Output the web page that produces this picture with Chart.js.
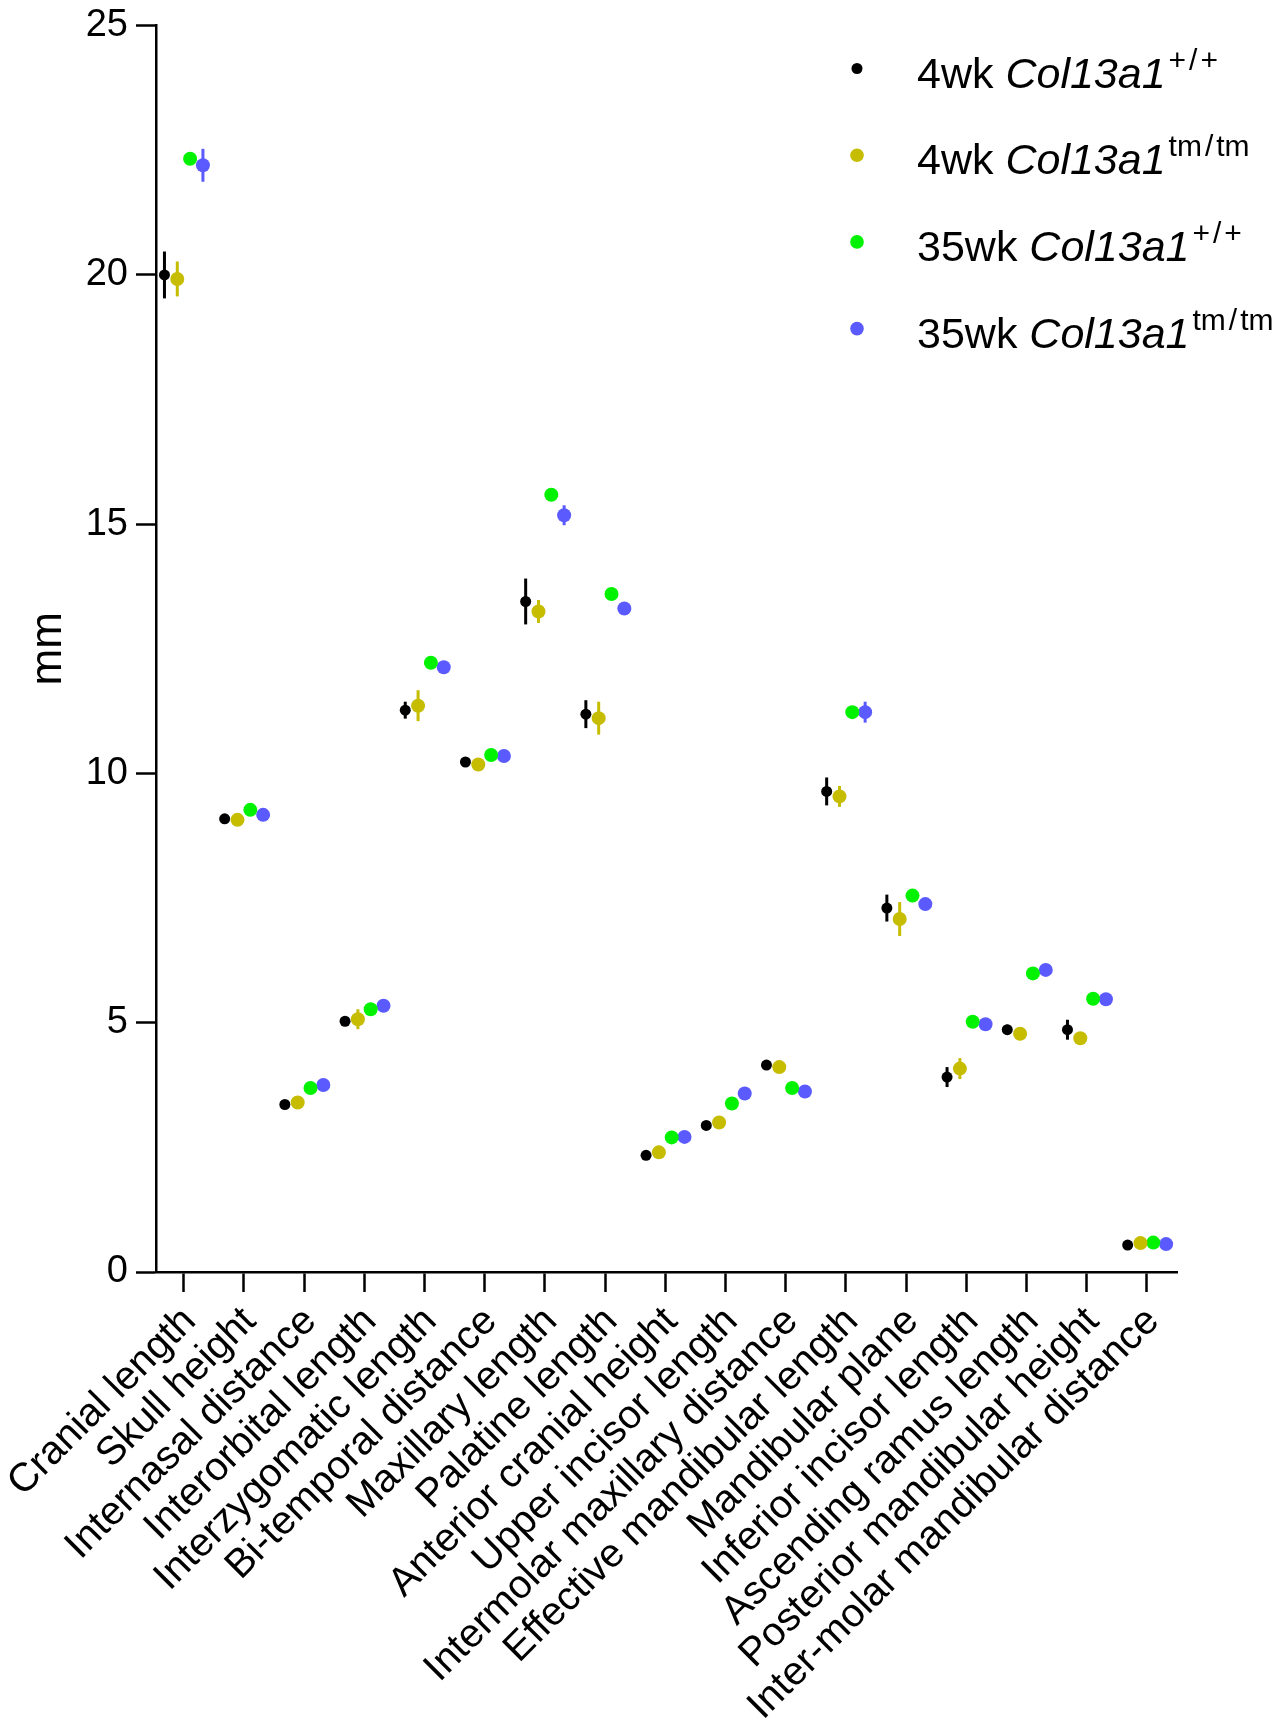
<!DOCTYPE html>
<html>
<head>
<meta charset="utf-8">
<script src="https://cdn.jsdelivr.net/npm/chart.js@4.4.1/dist/chart.umd.min.js"></script>
<style>
  html, body { margin: 0; padding: 0; background: #ffffff; }
  #wrap { position: relative; width: 1286px; height: 1721px; }
</style>
</head>
<body>
<div id="wrap"><canvas id="c"></canvas></div>
<script>
const categories = ['Cranial length','Skull height','Internasal distance','Interorbital length','Interzygomatic length','Bi-temporal distance','Maxillary length','Palatine length','Anterior cranial height','Upper incisor length','Intermolar maxillary distance','Effective mandibular length','Mandibular plane','Inferior incisor length','Ascending ramus length','Posterior mandibular height','Inter-molar mandibular distance'];

const ages = ['4wk', '4wk', '35wk', '35wk'];
const gene = 'Col13a1';
const genotypes = ['+/+', 'tm/tm', '+/+', 'tm/tm'];

const wk4WT     = [20.00, 9.09, 3.36, 5.03, 11.27, 10.23, 13.45, 11.19, 2.34, 2.94, 4.15, 9.64, 7.30, 3.91, 4.86, 4.86, 0.54];
const wk4WTErr  = [0.47, 0.08, 0.05, 0.05, 0.17, 0.10, 0.46, 0.28, 0.04, 0.08, 0.05, 0.28, 0.27, 0.20, 0.10, 0.20, 0.03];
const wk4TM     = [19.92, 9.07, 3.40, 5.07, 11.36, 10.18, 13.25, 11.11, 2.40, 3.00, 4.11, 9.54, 7.08, 4.08, 4.78, 4.69, 0.58];
const wk4TMErr  = [0.35, 0.05, 0.05, 0.20, 0.31, 0.05, 0.23, 0.33, 0.05, 0.05, 0.05, 0.21, 0.34, 0.21, 0.12, 0.08, 0.05];
const wk35WT    = [22.33, 9.27, 3.69, 5.27, 12.22, 10.37, 15.59, 13.60, 2.70, 3.38, 3.69, 11.23, 7.55, 5.02, 5.99, 5.48, 0.59];
const wk35WTErr = [0.05, 0.05, 0.05, 0.05, 0.05, 0.05, 0.05, 0.05, 0.05, 0.05, 0.05, 0.05, 0.05, 0.05, 0.05, 0.05, 0.05];
const wk35TM    = [22.20, 9.17, 3.75, 5.34, 12.13, 10.35, 15.18, 13.31, 2.71, 3.58, 3.62, 11.23, 7.38, 4.97, 6.06, 5.47, 0.56];
const wk35TMErr = [0.33, 0.10, 0.05, 0.05, 0.05, 0.05, 0.20, 0.05, 0.08, 0.10, 0.05, 0.21, 0.05, 0.05, 0.10, 0.05, 0.05];

const yTicks = [0, 5, 10, 15, 20, 25];

const seriesValues = [wk4WT, wk4TM, wk35WT, wk35TM];
const seriesErrors = [wk4WTErr, wk4TMErr, wk35WTErr, wk35TMErr];
const colors = ['#000000', '#C6BC00', '#00F200', '#5A5AFF'];
const radii = [5.5, 7, 7, 7];
const groupStep = 0.213;

const FONT = '"Liberation Sans", Arial, Helvetica, sans-serif';

const datasets = seriesValues.map((vals, s) => ({
  label: ages[s] + ' ' + gene + genotypes[s],
  data: vals.map((v, i) => ({ x: i + (s - 1.5) * groupStep, y: v })),
  errors: seriesErrors[s],
  backgroundColor: colors[s],
  borderColor: colors[s],
  borderWidth: 0,
  pointRadius: radii[s],
  pointHoverRadius: radii[s],
  showLine: false
}));

const errorBarPlugin = {
  id: 'errorBars',
  beforeDatasetsDraw(chart) {
    const ctx = chart.ctx;
    const xs = chart.scales.x, ys = chart.scales.y;
    chart.data.datasets.forEach((ds) => {
      ctx.save();
      ctx.strokeStyle = ds.borderColor;
      ctx.lineWidth = 3;
      ds.data.forEach((p, i) => {
        const e = ds.errors[i];
        const px = xs.getPixelForValue(p.x);
        ctx.beginPath();
        ctx.moveTo(px, ys.getPixelForValue(p.y + e));
        ctx.lineTo(px, ys.getPixelForValue(p.y - e));
        ctx.stroke();
      });
      ctx.restore();
    });
  }
};

const legendPlugin = {
  id: 'customLegend',
  afterDraw(chart) {
    const ctx = chart.ctx;
    const markerX = 857, textX = 917, firstY = 68.5, rowH = 86.7;
    chart.data.datasets.forEach((ds, s) => {
      const cy = firstY + s * rowH;
      const base = cy + 19;
      ctx.save();
      ctx.fillStyle = ds.backgroundColor;
      ctx.beginPath();
      ctx.arc(markerX, cy, s === 0 ? 5.5 : 6.8, 0, Math.PI * 2);
      ctx.fill();
      ctx.fillStyle = '#000000';
      ctx.textBaseline = 'alphabetic';
      ctx.textAlign = 'left';
      let x = textX;
      ctx.font = '43px ' + FONT;
      const t1 = ages[s] + ' ';
      ctx.fillText(t1, x, base);
      x += ctx.measureText(t1).width;
      ctx.font = 'italic 43px ' + FONT;
      ctx.fillText(gene, x, base);
      x += ctx.measureText(gene).width + 3;
      ctx.font = '30px ' + FONT;
      const sup = genotypes[s];
      const parts = sup.split('/');
      ctx.fillText(parts[0], x, base - 18);
      x += ctx.measureText(parts[0]).width + 3;
      ctx.fillText('/', x, base - 18);
      x += ctx.measureText('/').width + 3;
      ctx.fillText(parts[1], x, base - 18);
      ctx.restore();
    });
  }
};

new Chart(document.getElementById('c'), {
  type: 'scatter',
  data: { datasets },
  plugins: [errorBarPlugin, legendPlugin],
  options: {
    responsive: true,
    maintainAspectRatio: false,
    animation: false,
    devicePixelRatio: 1,
    layout: { padding: { left: 0, top: 25.7, right: 109, bottom: 0 } },
    plugins: {
      legend: { display: false },
      tooltip: { enabled: false }
    },
    scales: {
      x: {
        type: 'linear',
        min: -0.46,
        max: 16.5,
        afterBuildTicks: (scale) => { scale.ticks = categories.map((c, i) => ({ value: i })); },
        afterFit: (scale) => { scale.height = 449; scale.paddingLeft = 0; scale.paddingRight = 0; },
        border: { display: true, color: '#000000', width: 2.5 },
        grid: { drawOnChartArea: false, drawTicks: true, tickLength: 20, tickWidth: 2.5, tickColor: '#000000' },
        ticks: {
          autoSkip: false,
          minRotation: 45,
          maxRotation: 45,
          padding: 6,
          labelOffset: 6,
          color: '#000000',
          font: { family: FONT, size: 40 },
          callback: (v) => categories[v]
        }
      },
      y: {
        min: 0,
        max: 25,
        afterBuildTicks: (scale) => { scale.ticks = yTicks.map(v => ({ value: v })); },
        afterFit: (scale) => { scale.width = 156; scale.paddingTop = 0; scale.paddingBottom = 0; },
        border: { display: true, color: '#000000', width: 2.5 },
        grid: { drawOnChartArea: false, drawTicks: true, tickLength: 20, tickWidth: 2.5, tickColor: '#000000' },
        ticks: {
          padding: 8,
          color: '#000000',
          font: { family: FONT, size: 38, lineHeight: 1.0 },
          callback: (v) => String(v)
        },
        title: {
          display: true,
          text: 'mm',
          color: '#000000',
          font: { family: FONT, size: 44 },
          padding: { top: 22, bottom: 0 }
        }
      }
    }
  }
});
</script>
</body>
</html>
